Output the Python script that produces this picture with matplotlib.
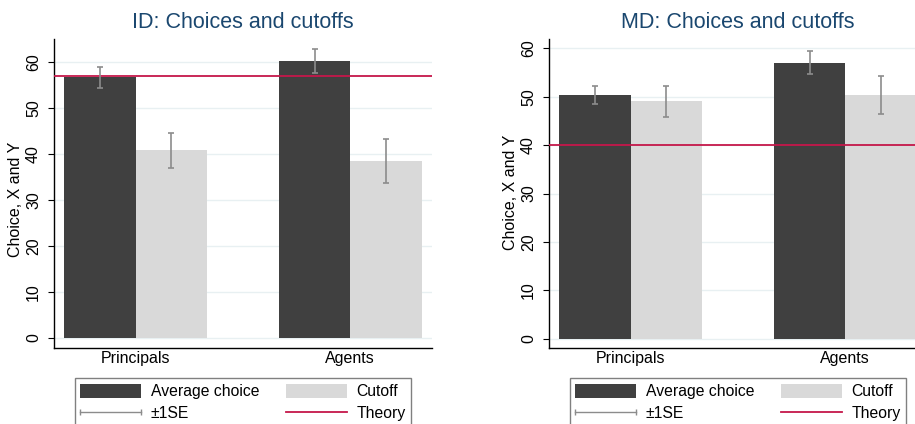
import matplotlib.pyplot as plt
from matplotlib.legend_handler import HandlerLine2D
from matplotlib.lines import Line2D
from matplotlib.patches import Patch
import numpy as np

plt.rcParams["font.family"] = ["Liberation Sans", "DejaVu Sans"]

groups = ["Principals", "Agents"]

# ID treatment
id_choice = [56.8, 60.3]
id_choice_se = [2.3, 2.7]
id_cutoff = [40.9, 38.5]
id_cutoff_se = [3.8, 4.8]
id_theory = 57.1

# MD treatment
md_choice = [50.3, 57.0]
md_choice_se = [1.8, 2.4]
md_cutoff = [49.1, 50.3]
md_cutoff_se = [3.2, 3.9]
md_theory = 40.0

DARK = "#404040"
LIGHT = "#d9d9d9"
SE_COLOR = "#8c8c8c"
THEORY_COLOR = "#c5174a"
GRID_COLOR = "#e8f0f2"
TITLE_COLOR = "#1a476f"


def panel(ax, title, choice, choice_se, cutoff, cutoff_se, theory, ylim, ylab_y):
    x = np.array([0.0, 3.0])

    for y in range(0, 70, 10):
        if ylim[0] <= y <= ylim[1]:
            ax.axhline(y, color=GRID_COLOR, lw=1.0, zorder=0)

    ax.bar(x - 0.5, choice, width=1.0, color=DARK, zorder=2)
    ax.bar(x + 0.5, cutoff, width=1.0, color=LIGHT, zorder=2)
    ax.axhline(theory, color=THEORY_COLOR, lw=1.3, zorder=3)
    ax.errorbar(x - 0.5, choice, yerr=choice_se, fmt="none", ecolor=SE_COLOR,
                elinewidth=1.2, capsize=2.2, capthick=1.2, zorder=4)
    ax.errorbar(x + 0.5, cutoff, yerr=cutoff_se, fmt="none", ecolor=SE_COLOR,
                elinewidth=1.2, capsize=2.2, capthick=1.2, zorder=4)

    ax.set_xlim(-1.14, 4.14)
    ax.set_ylim(*ylim)
    ax.set_xticks(x)
    ax.set_xticklabels(groups, fontsize=11.5)
    ax.tick_params(axis="x", length=0, pad=2)
    ax.set_yticks(range(0, 70, 10))
    ax.tick_params(axis="y", length=4.3, width=0.8, pad=5, labelsize=11.5)
    for lab in ax.get_yticklabels():
        lab.set_rotation(90)
        lab.set_va("center")

    ax.spines["top"].set_visible(False)
    ax.spines["right"].set_visible(False)
    ax.spines["left"].set_linewidth(1.0)
    ax.spines["bottom"].set_linewidth(1.0)

    ax.set_ylabel("Choice, X and Y", fontsize=11.5)
    ax.yaxis.set_label_coords(-0.082, ylab_y)
    ax.set_title(title, fontsize=15.5, color=TITLE_COLOR, pad=8)

    se_handle = Line2D([], [], color=SE_COLOR, lw=1.0, marker="|",
                       markersize=5, markeredgewidth=1.0)
    handles = [
        Patch(facecolor=DARK, edgecolor="none"),
        se_handle,
        Patch(facecolor=LIGHT, edgecolor="none"),
        Line2D([], [], color=THEORY_COLOR, lw=1.3),
    ]
    labels = ["Average choice", "\u00b11SE", "Cutoff", "Theory"]
    leg = ax.legend(handles, labels, loc="upper center",
                    bbox_to_anchor=(0.5, -0.097), borderaxespad=0, ncol=2,
                    fontsize=11.3, frameon=True, fancybox=False, shadow=False,
                    handlelength=3.9, handleheight=1.0, handletextpad=0.6,
                    columnspacing=1.7, labelspacing=0.45, borderpad=0.35,
                    handler_map={se_handle: HandlerLine2D(marker_pad=0, numpoints=2)})
    leg.get_frame().set_edgecolor("#606060")
    leg.get_frame().set_linewidth(1.0)


fig = plt.figure(figsize=(9.15, 4.24), dpi=100)
ax1 = fig.add_axes([0.059, 0.179, 0.413, 0.729])
ax2 = fig.add_axes([0.600, 0.179, 0.413, 0.729])

panel(ax1, "ID: Choices and cutoffs", id_choice, id_choice_se,
      id_cutoff, id_cutoff_se, id_theory, (-2.2, 65.1), 0.48)
panel(ax2, "MD: Choices and cutoffs", md_choice, md_choice_se,
      md_cutoff, md_cutoff_se, md_theory, (-1.9, 61.9), 0.505)

fig.savefig("out.png", dpi=100)
